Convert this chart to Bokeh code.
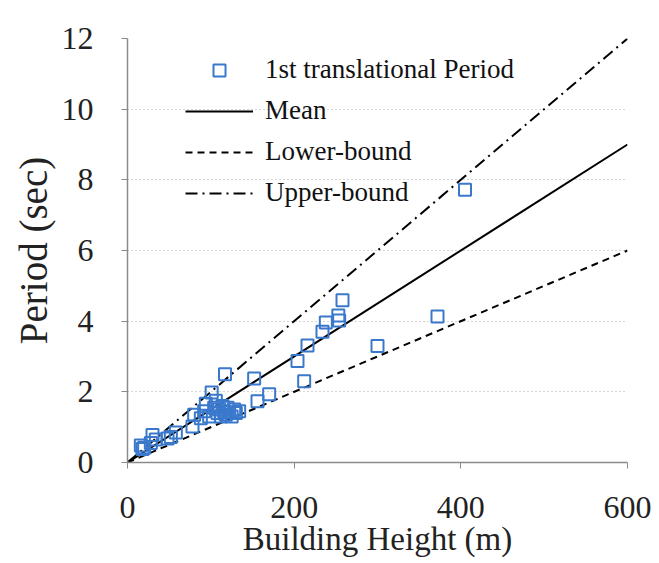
from bokeh.plotting import figure
from bokeh.models import Legend, LegendItem, FixedTicker, Range1d
from bokeh.embed import file_html
from bokeh.resources import INLINE

heights = [16, 18, 20, 28, 30, 34, 48, 52, 58, 78, 80, 88, 92, 94, 98, 101, 104, 106, 108, 110,
           112, 114, 116, 117, 118, 120, 122, 125, 128, 130, 134, 152, 156, 170, 204, 212, 216,
           234, 238, 253, 254, 258, 300, 372, 405]
periods = [0.48, 0.38, 0.42, 0.55, 0.78, 0.65, 0.68, 0.72, 0.85, 1.02, 1.35, 1.25, 1.45, 1.66, 1.30,
           1.98, 1.55, 1.75, 1.40, 1.50, 1.30, 1.60, 1.45, 2.50, 1.35, 1.55, 1.42, 1.30, 1.50, 1.40,
           1.45, 2.38, 1.73, 1.93, 2.87, 2.30, 3.31, 3.70, 3.96, 4.16, 4.02, 4.59, 3.30, 4.13, 7.72]
line_x = [0, 600]
mean_slope = 0.015
lower_slope = 0.010
upper_slope = 0.020
x_ticks = [0, 200, 400, 600]
y_ticks = [0, 2, 4, 6, 8, 10, 12]
x_title = "Building Height (m)"
y_title = "Period (sec)"

FONT = "Liberation Serif"

p = figure(width=651, height=555, output_backend="svg", toolbar_location=None,
           x_range=Range1d(0, 600), y_range=Range1d(0, 12),
           min_border_left=127, min_border_right=24, min_border_top=38, min_border_bottom=93)
p.frame_width = 500
p.frame_height = 424
p.outline_line_color = None
p.background_fill_color = "white"

p.xgrid.grid_line_color = None
p.ygrid.grid_line_color = "#aaaaaa"
p.ygrid.grid_line_dash = "1 3"
p.ygrid.grid_line_width = 1

for ax in (p.xaxis[0], p.yaxis[0]):
    ax.axis_line_color = "#8a8a8a"
    ax.axis_line_width = 1.5
    ax.major_tick_line_color = "#8a8a8a"
    ax.major_tick_out = 6
    ax.major_tick_in = 0
    ax.minor_tick_out = 0
    ax.minor_tick_in = 0
    ax.major_label_text_font = FONT
    ax.major_label_text_font_size = "32px"
    ax.major_label_text_color = "#222222"
    ax.axis_label_text_font = FONT
    ax.axis_label_text_font_style = "normal"
    ax.axis_label_text_color = "#222222"

p.xaxis.axis_label_text_font_size = "33px"
p.yaxis.axis_label_text_font_size = "39px"
p.xaxis.ticker = FixedTicker(ticks=x_ticks)
p.yaxis.ticker = FixedTicker(ticks=y_ticks)
p.xaxis.axis_label = x_title
p.yaxis.axis_label = y_title
p.xaxis.major_label_standoff = 28
p.xaxis.axis_label_standoff = 0
p.yaxis.major_label_standoff = 28
p.yaxis.axis_label_standoff = 4

mean_y = [mean_slope * v for v in line_x]
lower_y = [lower_slope * v for v in line_x]
upper_y = [upper_slope * v for v in line_x]

r_mean = p.line(line_x, mean_y, line_color="black", line_width=2)
r_low = p.line(line_x, lower_y, line_color="black", line_width=2, line_dash="7 5")
r_up = p.line(line_x, upper_y, line_color="black", line_width=2, line_dash="12 5 2 5")
r_pts = p.scatter(heights, periods, marker="square", size=12, line_color="#3a78cc",
                  line_width=2, fill_alpha=0)

legend = Legend(items=[
    LegendItem(label="1st translational Period", renderers=[r_pts]),
    LegendItem(label="Mean", renderers=[r_mean]),
    LegendItem(label="Lower-bound", renderers=[r_low]),
    LegendItem(label="Upper-bound", renderers=[r_up]),
], location=(58, 254))
legend.padding = 0
legend.margin = 0
legend.spacing = 10
legend.glyph_width = 68
legend.glyph_height = 30
legend.label_standoff = 12
legend.label_text_font = FONT
legend.label_text_font_size = "27px"
legend.label_text_color = "#111111"
legend.border_line_alpha = 0
legend.background_fill_alpha = 0
p.add_layout(legend, "center")

open("out.html", "w").write(file_html(p, INLINE))
